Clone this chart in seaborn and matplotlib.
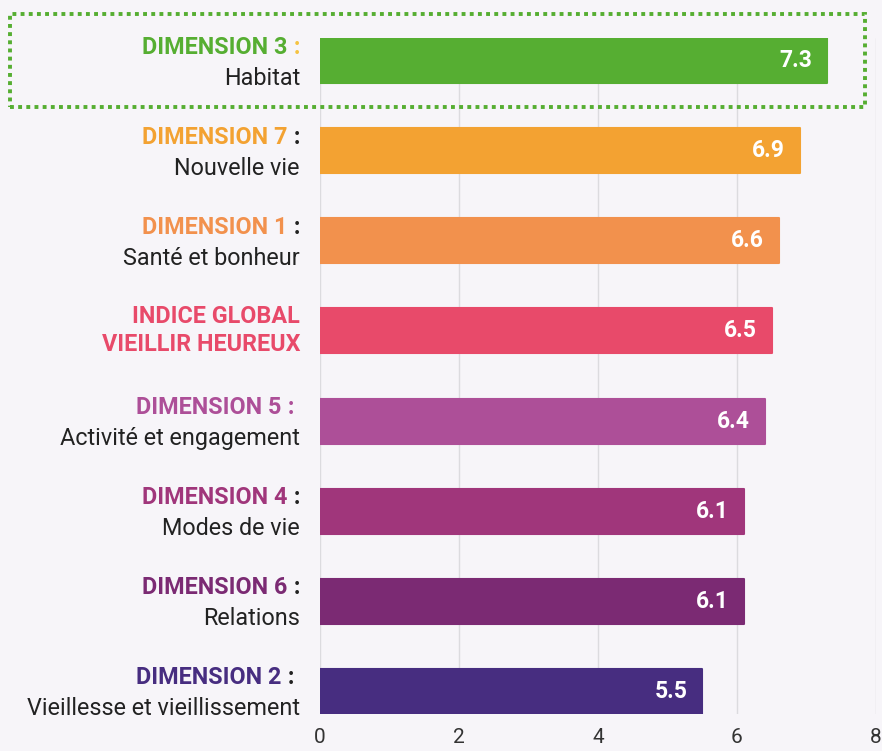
import matplotlib
matplotlib.use("Agg")
import matplotlib.pyplot as plt
import seaborn as sns
import pandas as pd
from matplotlib.patches import Rectangle

# ---- data ----
categories = ["DIMENSION 3", "DIMENSION 7", "DIMENSION 1", "INDICE GLOBAL",
              "DIMENSION 5", "DIMENSION 4", "DIMENSION 6", "DIMENSION 2"]
subtitles = ["Habitat", "Nouvelle vie", "Santé et bonheur", "VIEILLIR HEUREUX",
             "Activité et engagement", "Modes de vie", "Relations",
             "Vieillesse et vieillissement"]
values = [7.3, 6.9, 6.6, 6.5, 6.4, 6.1, 6.1, 5.5]
x_ticks = [0, 2, 4, 6, 8]

bar_colors = ["#56ae32", "#f3a232", "#f2914d", "#e84a6a",
              "#ad4f98", "#a0367b", "#7b2a73", "#472d80"]
label_colors = ["#56ae32", "#f3a232", "#f2914d", "#e84a6a",
                "#ad4f98", "#a0367b", "#7b2a73", "#472d80"]
colon_texts = [" :", " :", " :", "", " : ", " :", " :", " : "]
colon_colors = ["#f5c342", "#222222", "#222222", "#222222",
                "#ad4f98", "#222222", "#222222", "#222222"]

# ---- style ----
sns.set_theme(style="whitegrid")
plt.rcParams['font.family'] = ['Roboto', 'DejaVu Sans']

bg = "#f7f5f9"
W, H = 882, 751
fig = plt.figure(figsize=(W / 100, H / 100), dpi=100, facecolor=bg)
ax = fig.add_axes([320 / W, 1 - 714 / H, 556 / W, 676 / H])
ax.set_facecolor(bg)

df = pd.DataFrame({"cat": categories, "value": values})
sns.barplot(data=df, x="value", y="cat", hue="cat",
            palette=dict(zip(categories, bar_colors)), legend=False,
            width=0.5, orient="h", saturation=1, ax=ax)

for p in ax.patches:
    p.set_edgecolor(p.get_facecolor())
    p.set_linewidth(1.5)
    p.set_joinstyle("round")

ax.set_xlim(0, 8)
ax.set_ylim(7.25, -0.25)
ax.set_xticks(x_ticks)
ax.set_xticklabels([str(t) for t in x_ticks])
ax.set_yticks([])
ax.set_xlabel("")
ax.set_ylabel("")
ax.grid(axis="x", color="#dcdbdf", linewidth=1)
ax.grid(axis="y", visible=False)
ax.set_axisbelow(True)
for s in ax.spines.values():
    s.set_visible(False)
ax.tick_params(axis="x", length=0, pad=10, labelsize=15, labelcolor="#333333")

fs = 16.8
for i, (cat, sub, v) in enumerate(zip(categories, subtitles, values)):
    is_index = cat == "INDICE GLOBAL"
    if is_index:
        ax.annotate(cat, xy=(0, i), xycoords="data", xytext=(-20, 8),
                    textcoords="offset pixels", ha="right", va="baseline",
                    fontsize=fs, fontweight="bold", color=label_colors[i])
        ax.annotate(sub, xy=(0, i), xycoords="data", xytext=(-20, -20),
                    textcoords="offset pixels", ha="right", va="baseline",
                    fontsize=fs, fontweight="bold", color=label_colors[i])
    else:
        colon = ax.annotate(colon_texts[i], xy=(0, i), xycoords="data",
                            xytext=(-20, 7), textcoords="offset pixels",
                            ha="right", va="baseline", fontsize=fs,
                            fontweight="bold", color=colon_colors[i])
        ax.annotate(cat, xy=(0, 0.5), xycoords=colon, ha="right", va="center",
                    fontsize=fs, fontweight="bold", color=label_colors[i])
        ax.annotate(sub, xy=(0, i), xycoords="data", xytext=(-20, -24),
                    textcoords="offset pixels", ha="right", va="baseline",
                    fontsize=fs, color="#222222")
    # value label
    ax.annotate(f"{v:.1f}", xy=(v, i), xycoords="data", xytext=(-15, 0),
                textcoords="offset pixels", ha="right", va="center",
                fontsize=16.5, fontweight="bold", color="white")

# dotted highlight box
fig.patches.append(Rectangle((10 / W, 1 - 107 / H), 855 / W, 93.5 / H,
                             transform=fig.transFigure, fill=False,
                             edgecolor="#56ae32", linestyle=(0, (1, 1.1)),
                             linewidth=2.8))

fig.savefig("out.png", dpi=100, facecolor=bg)
